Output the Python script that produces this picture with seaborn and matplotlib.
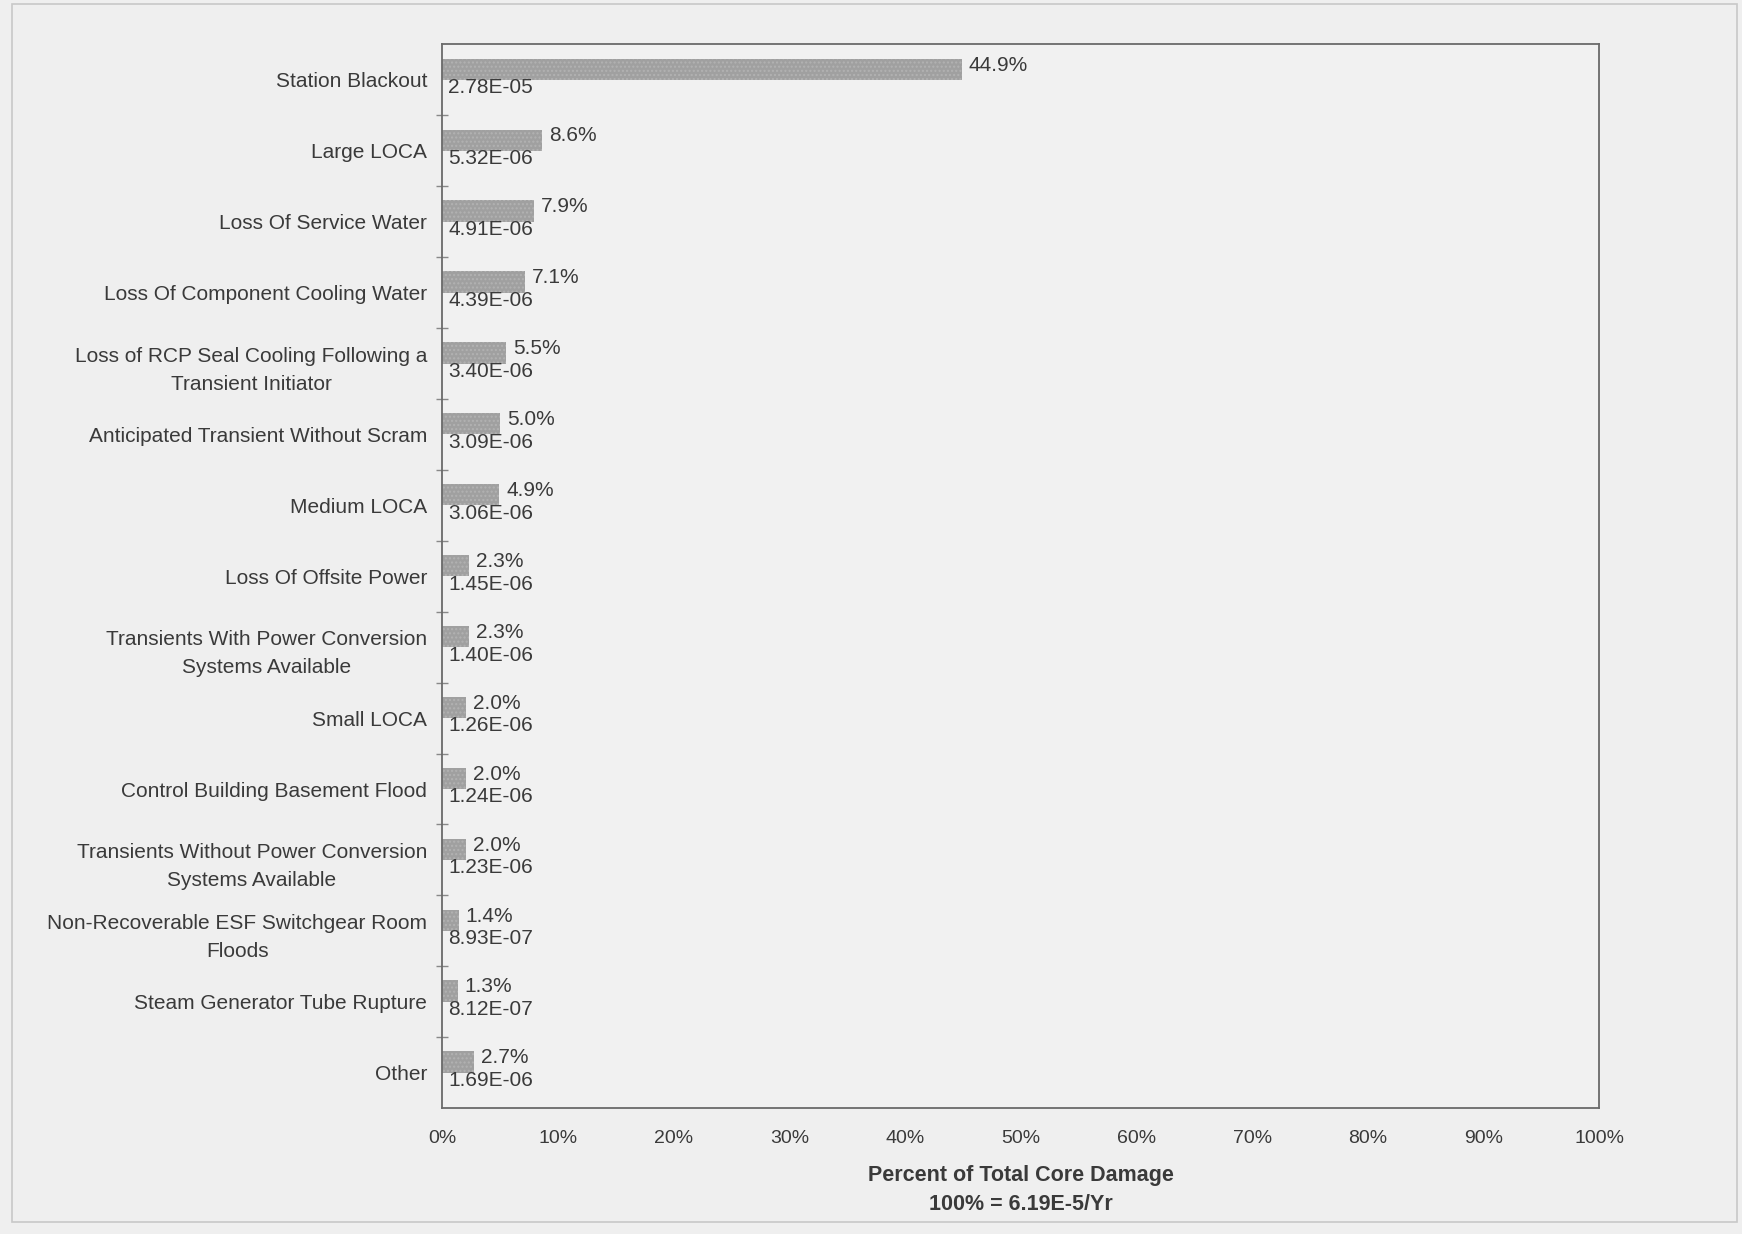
import matplotlib
matplotlib.use("Agg")
import matplotlib.pyplot as plt
import seaborn as sns
import pandas as pd
from matplotlib.patches import Rectangle

categories = [
    "Station Blackout",
    "Large LOCA",
    "Loss Of Service Water",
    "Loss Of Component Cooling Water",
    "Loss of RCP Seal Cooling Following a\nTransient Initiator",
    "Anticipated Transient Without Scram",
    "Medium LOCA",
    "Loss Of Offsite Power",
    "Transients With Power Conversion\nSystems Available",
    "Small LOCA",
    "Control Building Basement Flood",
    "Transients Without Power Conversion\nSystems Available",
    "Non-Recoverable ESF Switchgear Room\nFloods",
    "Steam Generator Tube Rupture",
    "Other",
]
percent = [44.9, 8.6, 7.9, 7.1, 5.5, 5.0, 4.9, 2.3, 2.3, 2.0, 2.0, 2.0, 1.4, 1.3, 2.7]
frequency_labels = ["2.78E-05", "5.32E-06", "4.91E-06", "4.39E-06", "3.40E-06",
                    "3.09E-06", "3.06E-06", "1.45E-06", "1.40E-06", "1.26E-06",
                    "1.24E-06", "1.23E-06", "8.93E-07", "8.12E-07", "1.69E-06"]
xticks = [0, 10, 20, 30, 40, 50, 60, 70, 80, 90, 100]
xlabel = "Percent of Total Core Damage\n100% = 6.19E-5/Yr"

sns.set_theme(style="white")
plt.rcParams["font.family"] = ["Liberation Sans", "DejaVu Sans"]

text_color = "#3a3a3a"
bg = "#efefef"

df = pd.DataFrame({
    "category": categories * 2,
    "series": ["percent"] * len(categories) + ["frequency"] * len(categories),
    "value": percent + percent,
})

fig = plt.figure(figsize=(17.42, 12.34), dpi=100, facecolor=bg)
ax = fig.add_axes([0.254, 0.102, 0.664, 0.862])
ax.set_facecolor("#f1f1f1")

sns.barplot(data=df, y="category", x="value", hue="series", orient="h",
            width=0.6, palette={"percent": "#a0a0a0", "frequency": "#a0a0a0"},
            saturation=1, legend=False, ax=ax, errorbar=None,
            hue_order=["percent", "frequency"], linewidth=0)

pct_bars = ax.containers[0]
freq_bars = ax.containers[1]
for p in pct_bars:
    p.set_hatch("....")
    p.set_edgecolor("#b2b2b2")
    p.set_linewidth(0)
for p in freq_bars:
    p.set_alpha(0)

for p, v in zip(pct_bars, percent):
    ax.annotate(f"{v:.1f}%", xy=(p.get_x() + p.get_width(), p.get_y() + p.get_height() / 2),
                xytext=(5, 3), textcoords="offset points", ha="left", va="center",
                fontsize=15, color=text_color)
for p, lbl in zip(freq_bars, frequency_labels):
    ax.annotate(lbl, xy=(p.get_x(), p.get_y() + p.get_height() / 2),
                xytext=(4, 2), textcoords="offset points", ha="left", va="center",
                fontsize=15, color=text_color)

ax.set_xlim(0, 100)
ax.set_ylim(len(categories) - 0.5, -0.5)
ax.set_xticks(xticks)
ax.set_xticklabels([f"{t}%" for t in xticks], fontsize=14, color=text_color)
ax.tick_params(axis="x", direction="inout", length=8, width=1, color="#777777", pad=12)

ax.set_yticks(range(len(categories)))
ax.set_yticklabels(categories, fontsize=15, color=text_color, linespacing=1.6,
                   multialignment="center")
ax.tick_params(axis="y", which="major", length=0, pad=11)
ax.set_yticks([i + 0.5 for i in range(len(categories) - 1)], minor=True)
ax.tick_params(axis="y", which="minor", direction="inout", length=8, width=1,
               color="#888888", left=True)

ax.set_ylabel("")
ax.set_xlabel(xlabel, fontsize=15.5, fontweight="bold", color=text_color,
              labelpad=13, linespacing=1.45)

for s in ax.spines.values():
    s.set_visible(True)
    s.set_color("#6a6a6a")
    s.set_linewidth(1.3)

fig.patches.append(Rectangle((0.007, 0.01), 0.99, 0.987, transform=fig.transFigure,
                             fill=False, edgecolor="#c8c8c8", linewidth=1.2))

fig.savefig("out.png", dpi=100, facecolor=bg)
